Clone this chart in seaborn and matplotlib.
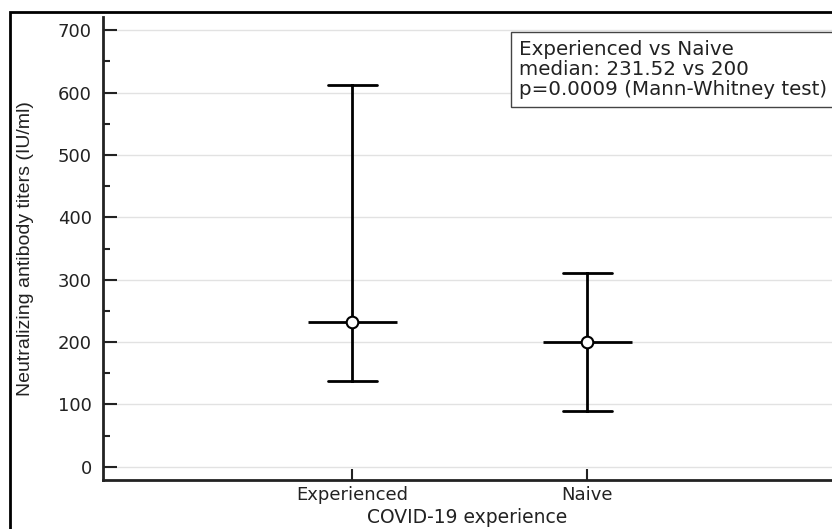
import numpy as np
import pandas as pd
import matplotlib
matplotlib.use("Agg")
import matplotlib.pyplot as plt
import seaborn as sns
from matplotlib.patches import Rectangle

groups = ["Experienced", "Naive"]
lows = [138, 90]
medians = [231.52, 200]
highs = [612, 310]
yticks = [0, 100, 200, 300, 400, 500, 600, 700]
box_text = "Experienced vs Naive\nmedian: 231.52 vs 200\np=0.0009 (Mann-Whitney test)"

rows = []
for g, lo, md, hi in zip(groups, lows, medians, highs):
    for v in (lo, md, hi):
        rows.append({"group": g, "value": v})
df = pd.DataFrame(rows)

sns.set_style("white")
plt.rcParams["font.family"] = ["DejaVu Sans"]

fig = plt.figure(figsize=(8.32, 5.29), dpi=100)
ax = fig.add_axes([103 / 832, 1 - 480 / 529, 1 - 103 / 832, (480 - 17) / 529])

sns.pointplot(data=df, x="group", y="value", order=groups, estimator=np.median,
              errorbar=lambda v: (v.min(), v.max()), capsize=0.21,
              linestyle="none", color="black", err_kws={"linewidth": 2},
              markers="", ax=ax)

ax.hlines(medians, [i - 0.19 for i in range(len(groups))],
          [i + 0.19 for i in range(len(groups))], colors="black", linewidth=2, zorder=4)
sns.scatterplot(x=groups, y=medians, ax=ax, s=70, color="white",
                edgecolor="black", linewidth=1.5, zorder=6, legend=False)

ax.set_xlim(-1.06, 2.04)
ax.set_ylim(-21, 721)
ax.set_yticks(yticks)
ax.set_yticks(np.arange(50, 700, 100), minor=True)
ax.grid(axis="y", color="#e2e2e2", linewidth=1)
ax.set_axisbelow(True)

for s in ["top", "right"]:
    ax.spines[s].set_visible(False)
for s in ["left", "bottom"]:
    ax.spines[s].set_linewidth(2)
    ax.spines[s].set_color("#222222")

ax.tick_params(axis="y", which="major", direction="in", length=10, width=1.5,
               labelsize=13, pad=8, color="#222222", left=True, labelcolor="#222222")
ax.tick_params(axis="y", which="minor", direction="in", length=5, width=1.5,
               left=True, color="#222222")
ax.tick_params(axis="x", which="major", direction="in", length=8, width=1.5,
               labelsize=13, pad=4, color="#222222", bottom=True, labelcolor="#222222")

ax.set_xlabel("COVID-19 experience", fontsize=13.5, labelpad=3, color="#222222")
ax.set_ylabel("Neutralizing antibody titers (IU/ml)", fontsize=14,
              family=["Liberation Sans", "DejaVu Sans"], labelpad=17, color="#222222")

ax.text((519 - 103) / 729, (480 - 40) / 463, box_text, transform=ax.transAxes,
        fontsize=14.3, va="top", ha="left", linespacing=1.06, color="#222222",
        clip_on=False,
        bbox=dict(boxstyle="square,pad=0.4", facecolor="white",
                  edgecolor="#444444", linewidth=1))

fig.patches.append(Rectangle((10 / 832, -0.05), 1.2, 1 - 12 / 529 + 0.05,
                             transform=fig.transFigure, fill=False,
                             edgecolor="black", linewidth=2))

fig.savefig("out.png", dpi=100)
